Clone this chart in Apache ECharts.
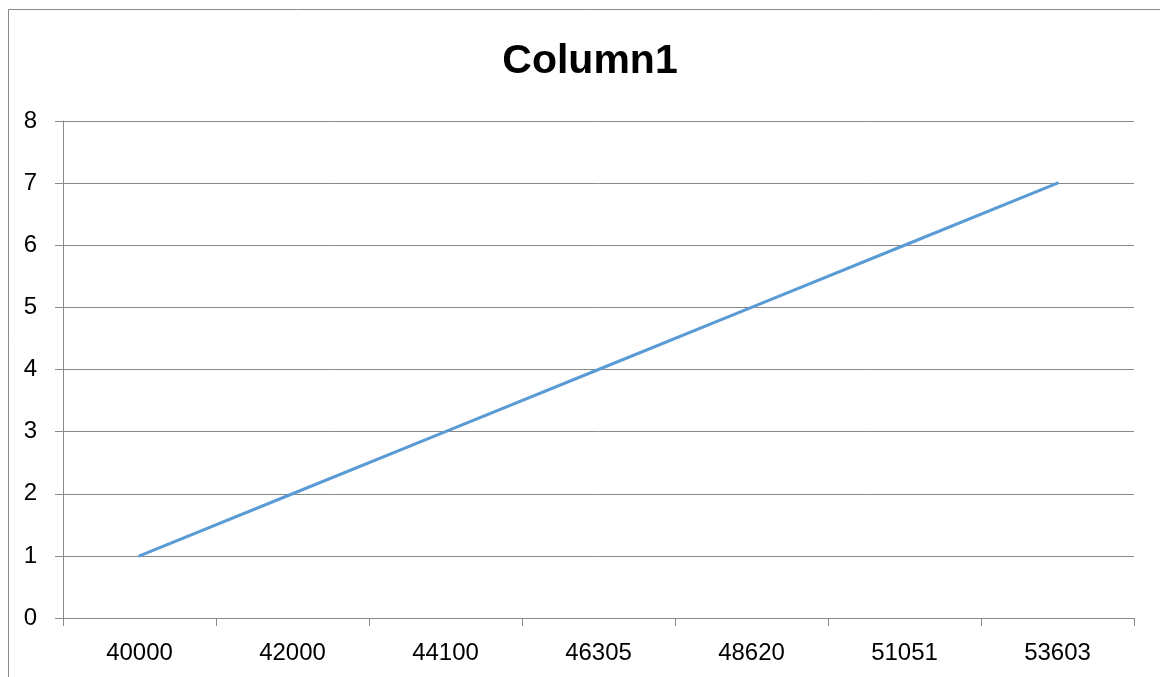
<!DOCTYPE html>
<html>
<head>
<meta charset="utf-8">
<style>
  html, body { margin: 0; padding: 0; background: #ffffff; }
  #chart { width: 1160px; height: 677px; }
</style>
<script src="https://cdn.jsdelivr.net/npm/echarts@6/dist/echarts.min.js"></script>
</head>
<body>
<div id="chart"></div>
<script>
// Series data
const categories = ['40000', '42000', '44100', '46305', '48620', '51051', '53603'];
const column1Values = [1, 2, 3, 4, 5, 6, 7];
const yTicks = { min: 0, max: 8, interval: 1 };

const chart = echarts.init(document.getElementById('chart'), null, { renderer: 'canvas' });

const axisGray = '#898989';
const fontFamily = '"Liberation Sans", Arial, sans-serif';

chart.setOption({
  backgroundColor: '#ffffff',
  animation: false,
  title: {
    text: 'Column1',
    left: 585,
    textAlign: 'center',
    top: 36,
    textStyle: { fontFamily, fontSize: 41, fontWeight: 'bold', color: '#000000' }
  },
  graphic: [{
    type: 'rect',
    shape: { x: 8.5, y: 9.5, width: 1300, height: 800 },
    style: { fill: 'none', stroke: axisGray, lineWidth: 1 },
    silent: true,
    z: -1
  }],
  grid: { left: 63, right: 26, top: 121, bottom: 59, containLabel: false },
  xAxis: {
    type: 'category',
    data: categories,
    boundaryGap: true,
    axisLine: { show: true, lineStyle: { color: axisGray, width: 1 } },
    axisTick: { show: true, length: 8, alignWithLabel: false, lineStyle: { color: axisGray } },
    axisLabel: { margin: 23, color: '#000000', fontFamily, fontSize: 24 },
    splitLine: { show: false }
  },
  yAxis: {
    type: 'value',
    min: yTicks.min,
    max: yTicks.max,
    interval: yTicks.interval,
    axisLine: { show: true, lineStyle: { color: axisGray, width: 1 } },
    axisTick: { show: true, length: 8, lineStyle: { color: axisGray } },
    axisLabel: { margin: 26, color: '#000000', fontFamily, fontSize: 24 },
    splitLine: { show: true, lineStyle: { color: axisGray, width: 1 } }
  },
  series: [{
    name: 'Column1',
    type: 'line',
    data: column1Values,
    showSymbol: false,
    lineStyle: { color: '#5B9BD5', width: 3, cap: 'round' },
    itemStyle: { color: '#5B9BD5' }
  }]
});
</script>
</body>
</html>
